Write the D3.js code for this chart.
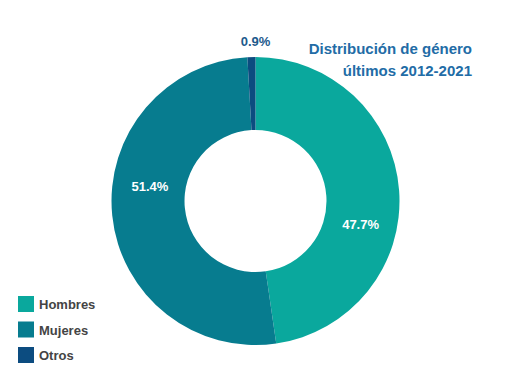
<!DOCTYPE html>
<html lang="es">
<head>
  <meta charset="UTF-8">
  <title>Distribución de género</title>
  <style>
    body { margin: 0; background: #fff; }
    text { font-family: "Liberation Sans", Arial, sans-serif; font-weight: bold; }
  </style>
</head>
<body>
<div id="chart"></div>

<script src="https://cdn.jsdelivr.net/npm/d3@7"></script>
<script>
  const CATEGORIES = ['Hombres', 'Mujeres', 'Otros'];
  const VALUES = [47.7, 51.4, 0.9];
  const COLORS = ['#0aa89d', '#077c8f', '#0c4c80'];
  const TITLE = ['Distribución de género', 'últimos 2012-2021'];

  const width = 512, height = 384;
  const cx = 255.5, cy = 201;
  const outerR = 144, innerR = 71;

  const svg = d3.select('#chart')
    .append('svg')
    .attr('width', width)
    .attr('height', height);

  const color = d3.scaleOrdinal().domain(CATEGORIES).range(COLORS);

  const pie = d3.pie().sort(null).value(function (d) { return d.value; });
  const data = pie(CATEGORIES.map(function (c, i) {
    return {name: c, value: VALUES[i]};
  }));

  const arc = d3.arc().innerRadius(innerR).outerRadius(outerR);

  const g = svg.append('g')
    .attr('transform', 'translate(' + cx + ',' + cy + ')');

  g.selectAll('path')
    .data(data)
    .enter()
    .append('path')
    .attr('d', arc)
    .attr('fill', function (d) { return color(d.data.name); });

  // labels: big slices inside (rotated a bit), tiny ones outside
  const shift = 15 * Math.PI / 180;
  g.selectAll('.lbl')
    .data(data)
    .enter()
    .append('text')
    .attr('class', 'lbl')
    .attr('text-anchor', 'middle')
    .attr('dominant-baseline', 'central')
    .style('font-size', '13px')
    .attr('fill', function (d) { return d.data.value < 5 ? '#1d5a8c' : '#fff'; })
    .attr('transform', function (d) {
      const mid = (d.startAngle + d.endAngle) / 2;
      const small = d.data.value < 5;
      const a = small ? 0 : mid + shift;
      const r = small ? outerR + 19 : 107;
      return 'translate(' + (r * Math.sin(a)) + ',' + (-r * Math.cos(a) + 3) + ')';
    })
    .text(function (d) { return d.data.value.toFixed(1) + '%'; });

  // title
  svg.append('text')
    .attr('text-anchor', 'end')
    .attr('fill', '#226ca6')
    .style('font-size', '15px')
    .selectAll('tspan')
    .data(TITLE)
    .enter()
    .append('tspan')
    .attr('x', 472)
    .attr('y', function (d, i) { return 54 + i * 22; })
    .text(function (d) { return d; });

  // legend
  const legend = svg.append('g').attr('transform', 'translate(18,296)');
  const row = legend.selectAll('g')
    .data(CATEGORIES)
    .enter()
    .append('g')
    .attr('transform', function (d, i) { return 'translate(0,' + (i * 25.5) + ')'; });

  row.append('rect')
    .attr('width', 16)
    .attr('height', 16)
    .attr('fill', function (d) { return color(d); });

  row.append('text')
    .attr('x', 21)
    .attr('y', 13)
    .attr('fill', '#444')
    .style('font-size', '13px')
    .text(function (d) { return d; });
</script>
</body>
</html>
